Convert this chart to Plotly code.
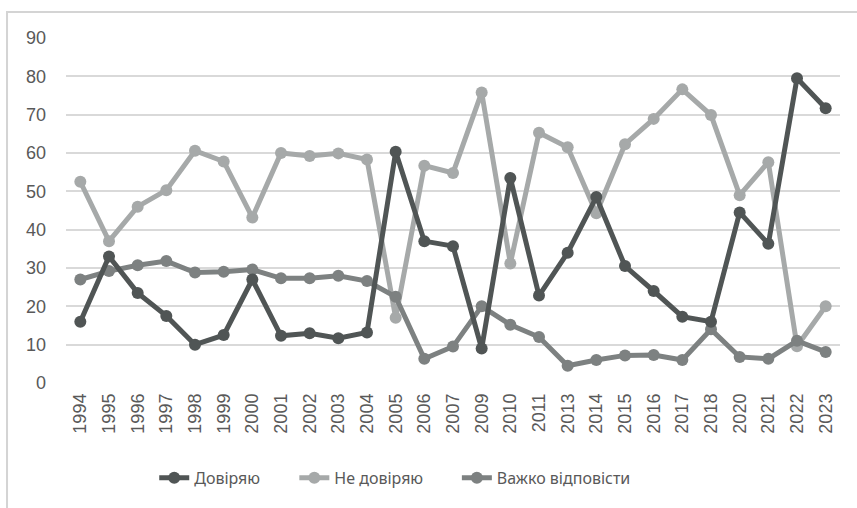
import plotly.graph_objects as go

years = ["1994", "1995", "1996", "1997", "1998", "1999", "2000", "2001", "2002", "2003",
         "2004", "2005", "2006", "2007", "2009", "2010", "2011", "2013", "2014", "2015",
         "2016", "2017", "2018", "2020", "2021", "2022", "2023"]

trust = [16, 33, 23.5, 17.5, 10, 12.5, 27, 12.3, 13, 11.7,
         13.2, 60.3, 37, 35.7, 9, 53.5, 22.8, 34, 48.5, 30.5,
         24, 17.3, 16, 44.5, 36.3, 79.5, 71.7]

distrust = [52.5, 37, 46, 50.3, 60.6, 57.8, 43.2, 60, 59.2, 59.9,
            58.3, 17, 56.7, 54.8, 75.8, 31.2, 65.3, 61.5, 44.3, 62.3,
            68.9, 76.6, 69.9, 49, 57.6, 9.6, 20]

hard = [27, 29.2, 30.7, 31.8, 28.8, 29, 29.6, 27.3, 27.3, 28,
        26.6, 22.5, 6.3, 9.5, 20, 15.2, 12, 4.5, 6, 7.2,
        7.3, 6, 14, 6.8, 6.3, 11, 8.1]

names = ["Довіряю", "Не довіряю", "Важко відповісти"]
colors = ["#505555", "#a6a9a9", "#7d8181"]
series = [trust, distrust, hard]
legend_ids = ["legend", "legend2", "legend3"]
legend_x = [0.114, 0.295, 0.505]

fig = go.Figure()
# draw light first so darker lines sit on top
for idx in [1, 2, 0]:
    fig.add_trace(go.Scatter(
        x=years, y=series[idx], name=names[idx], mode="lines+markers",
        line=dict(color=colors[idx], width=5),
        marker=dict(color=colors[idx], size=12),
        legend=legend_ids[idx],
    ))

legend_font = dict(family="Noto Sans, sans-serif", size=16, color="#595959")
legend_layout = {}
for lid, lx in zip(legend_ids, legend_x):
    legend_layout[lid] = dict(orientation="h", x=lx, xanchor="left", y=-0.275,
                              yanchor="middle", font=legend_font,
                              bgcolor="rgba(0,0,0,0)")

fig.update_layout(
    width=857, height=508,
    margin=dict(l=66, r=17, t=38, b=125, autoexpand=False),
    paper_bgcolor="white", plot_bgcolor="white",
    font=dict(family="Liberation Sans, Arial, sans-serif", color="#595959", size=17),
    showlegend=True,
    shapes=[dict(type="rect", xref="paper", yref="paper",
                 x0=-0.0762, x1=1.05, y0=-0.4, y1=1.0754,
                 line=dict(color="#d4d4d4", width=2), layer="below")],
    **legend_layout,
)
fig.update_xaxes(type="category", range=[-0.5, len(years) - 0.5], tickangle=-90,
                 showgrid=False, showline=False, ticks="", tickfont=dict(size=18),
                 ticklabelstandoff=6)
fig.update_yaxes(range=[0, 90], dtick=10, showgrid=True, gridcolor="#d9d9d9", gridwidth=2,
                 zeroline=False, showline=False, ticks="",
                 tickfont=dict(size=18), ticklabelstandoff=19)

fig.write_html("out.html", config={"displayModeBar": False},
               post_script="document.body.style.margin='0';")
